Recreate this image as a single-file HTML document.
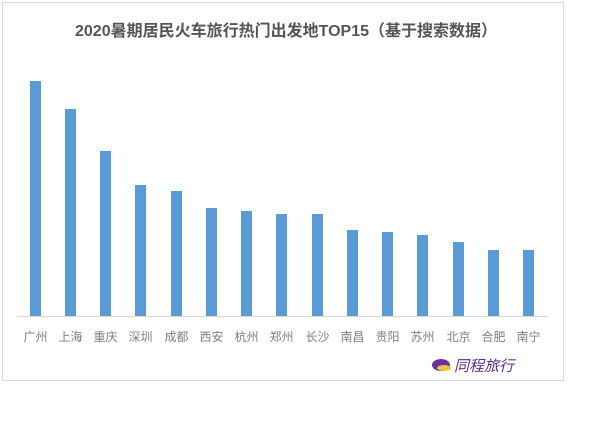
<!DOCTYPE html>
<html><head><meta charset="utf-8"><style>
body{margin:0;width:600px;height:416px;background:#fff;overflow:hidden;font-family:"Liberation Sans","Noto Sans CJK SC",sans-serif}
</style></head><body>
<svg width="600" height="416" xmlns="http://www.w3.org/2000/svg" font-family="Liberation Sans, Noto Sans CJK SC, sans-serif">
<rect x="2.5" y="2.5" width="561" height="378" fill="#fff" stroke="#d9d9d9"/>
<text x="286" y="36" text-anchor="middle" font-size="16" font-weight="bold" fill="#555">2020暑期居民火车旅行热门出发地TOP15（基于搜索数据）</text>
<line x1="17" y1="316.5" x2="548" y2="316.5" stroke="#d9d9d9"/>
<g fill="#5b9bd5">
<rect x="30" y="81" width="11" height="235"/>
<rect x="65" y="109" width="11" height="207"/>
<rect x="100" y="151" width="11" height="165"/>
<rect x="135" y="185" width="11" height="131"/>
<rect x="171" y="191" width="11" height="125"/>
<rect x="206" y="208" width="11" height="108"/>
<rect x="241" y="211" width="11" height="105"/>
<rect x="276" y="214" width="11" height="102"/>
<rect x="312" y="214" width="11" height="102"/>
<rect x="347" y="230" width="11" height="86"/>
<rect x="382" y="232" width="11" height="84"/>
<rect x="417" y="235" width="11" height="81"/>
<rect x="453" y="242" width="11" height="74"/>
<rect x="488" y="250" width="11" height="66"/>
<rect x="523" y="250" width="11" height="66"/>
</g>
<g font-size="12" fill="#7f7f7f" text-anchor="middle">
<text x="35.5" y="341">广州</text><text x="70.5" y="341">上海</text><text x="105.5" y="341">重庆</text>
<text x="140.5" y="341">深圳</text><text x="176.5" y="341">成都</text><text x="211.5" y="341">西安</text>
<text x="246.5" y="341">杭州</text><text x="281.5" y="341">郑州</text><text x="317.5" y="341">长沙</text>
<text x="352.5" y="341">南昌</text><text x="387.5" y="341">贵阳</text><text x="422.5" y="341">苏州</text>
<text x="458.5" y="341">北京</text><text x="493.5" y="341">合肥</text><text x="528.5" y="341">南宁</text>
</g>
<ellipse cx="441" cy="365" rx="9" ry="6" fill="#6a2fa0"/>
<ellipse cx="444" cy="368" rx="7" ry="3" fill="#e8c640"/>
<text x="454" y="371" font-size="15" font-style="italic" fill="#5b2a91">同程旅行</text>
</svg>
</body></html>
